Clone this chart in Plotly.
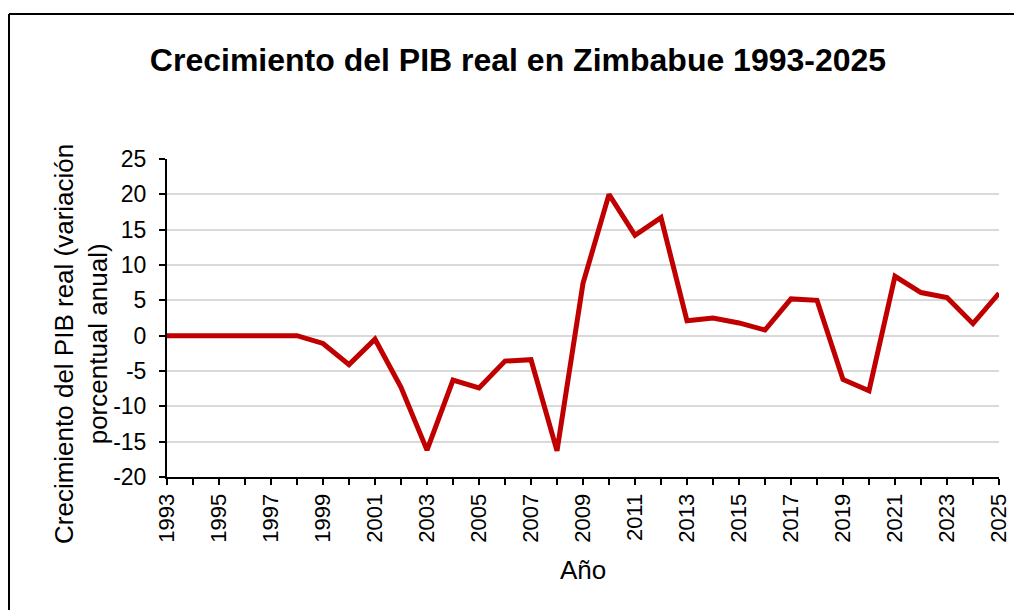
import plotly.graph_objects as go

years = list(range(1993, 2026))
growth = [0, 0, 0, 0, 0, 0, -1.1, -4.1, -0.5, -7.3, -16.2, -6.3, -7.4, -3.6, -3.4,
          -16.3, 7.4, 20.0, 14.2, 16.7, 2.1, 2.5, 1.8, 0.8, 5.2, 5.0, -6.2, -7.8,
          8.4, 6.1, 5.4, 1.7, 6.0]
y_ticks = [25, 20, 15, 10, 5, 0, -5, -10, -15, -20]
y_tick_labels = [str(v) for v in y_ticks]

title_text = "<b>Crecimiento del PIB real en Zimbabue 1993-2025</b>"
y_title = "Crecimiento del PIB real (variación<br>porcentual anual)"
x_title = "Año"

FONT = "Liberation Sans, Arial, sans-serif"

W, H = 1014, 610
PL, PR, PT, PB = 167, 999, 159, 477  # plot-area edges in page pixels


def px_x(p):
    return (p - PL) / (PR - PL)


def px_y(p):
    return (PB - p) / (PB - PT)


fig = go.Figure()
fig.add_trace(go.Scatter(x=years, y=growth, mode="lines",
                         line=dict(color="#c00000", width=5), hoverinfo="x+y"))

fig.update_layout(
    width=W, height=H, autosize=False,
    margin=dict(l=PL, r=W - PR, t=PT, b=H - PB, pad=0, autoexpand=False),
    paper_bgcolor="white", plot_bgcolor="white",
    showlegend=False,
    font=dict(family=FONT, color="black"),
    title=dict(text=title_text, x=518 / W, xanchor="center", xref="container",
               y=1 - 60 / H, yanchor="middle", yref="container",
               font=dict(size=32, family=FONT, color="black")),
)
fig.update_xaxes(range=[1993, 2025], tickmode="linear", tick0=1993, dtick=2,
                 automargin=False,
                 tickangle=-90, ticks="outside", ticklen=6, tickwidth=1.5, tickcolor="black",
                 minor=dict(dtick=1, tick0=1993, ticks="outside", ticklen=6, tickwidth=1.5,
                            tickcolor="black", showgrid=False),
                 showline=True, linecolor="black", linewidth=2, showgrid=False,
                 zeroline=False, tickfont=dict(size=22, family=FONT, color="black"))
fig.update_yaxes(range=[-20, 25], tickmode="array", tickvals=y_ticks, ticktext=y_tick_labels,
                 automargin=False, ticklabelstandoff=8,
                 ticks="outside", ticklen=6, tickwidth=1.5, tickcolor="black",
                 showline=True, linecolor="black", linewidth=2,
                 showgrid=True, gridcolor="#d9d9d9", gridwidth=1.5, zeroline=False,
                 tickfont=dict(size=23, family=FONT, color="black"))

fig.add_annotation(text=y_title, textangle=-90, xref="paper", yref="paper",
                   x=px_x(81), y=px_y(344), showarrow=False,
                   xanchor="center", yanchor="middle",
                   font=dict(size=26, family=FONT, color="black"))
fig.add_annotation(text=x_title, xref="paper", yref="paper",
                   x=px_x(583), y=px_y(570), showarrow=False,
                   xanchor="center", yanchor="middle",
                   font=dict(size=26, family=FONT, color="black"))

# outer chart border (runs off the visible page at right and bottom)
fig.add_shape(type="line", xref="paper", yref="paper",
              x0=px_x(9), x1=px_x(1040), y0=px_y(14), y1=px_y(14),
              line=dict(color="black", width=2))
fig.add_shape(type="line", xref="paper", yref="paper",
              x0=px_x(9), x1=px_x(9), y0=px_y(14), y1=px_y(650),
              line=dict(color="black", width=2))

fig.write_html("out.html", config={"responsive": False, "displayModeBar": False},
               post_script="document.body.style.margin='0';"
                           "document.body.style.overflow='hidden';")
